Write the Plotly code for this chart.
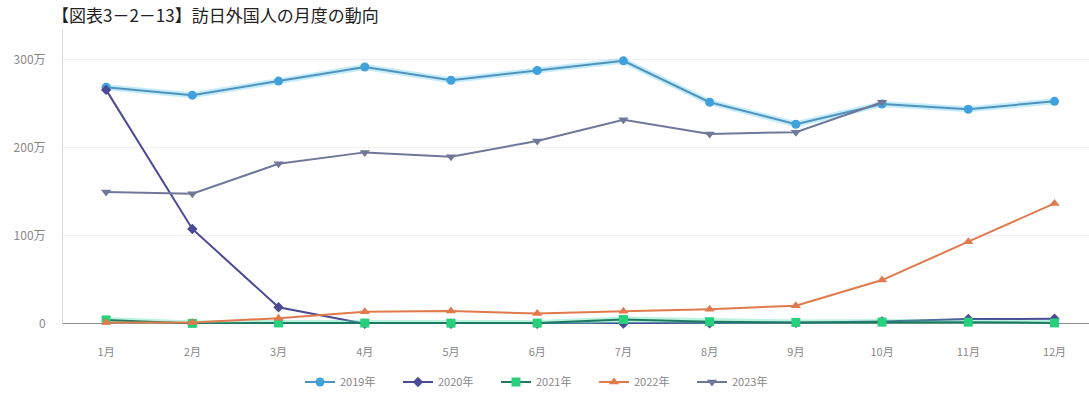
import plotly.graph_objects as go

months = ["1月", "2月", "3月", "4月", "5月", "6月", "7月", "8月", "9月", "10月", "11月", "12月"]
y2019 = [269, 260, 276, 292, 277, 288, 299, 252, 227, 250, 244, 253]
y2020 = [266, 108, 19, 0.3, 0.2, 0.3, 0.4, 0.9, 1.4, 2.8, 5.6, 5.9]
y2021 = [4.6, 0.7, 1.2, 1.1, 1.0, 1.0, 5.1, 2.6, 1.8, 2.2, 2.1, 1.2]
y2022 = [1.7, 1.7, 6.6, 13.9, 14.7, 12.0, 14.5, 16.9, 20.7, 49.9, 93.5, 137.0]
y2023 = [150, 148, 182, 195, 190, 208, 232, 216, 218, 252]
yticks = [0, 100, 200, 300]
ytick_text = ["0", "100万", "200万", "300万"]
title_text = "【図表3－2－13】訪日外国人の月度の動向"

series = [
    ("2019年", y2019, "#3fa2dc", "#4f93bd", "circle", 9, "rgba(90,200,240,0.35)"),
    ("2020年", y2020, "#4a4a95", "#4a4a95", "diamond", 8, None),
    ("2021年", y2021, "#27d07a", "#1e7a63", "square", 9, "rgba(60,220,160,0.35)"),
    ("2022年", y2022, "#e07a4c", "#e07a4c", "triangle-up", 9, None),
    ("2023年", y2023, "#6f7898", "#6f7898", "triangle-down", 9, None),
]

fig = go.Figure()
for name, vals, mcol, lcol, sym, size, glow in series:
    xs = months[:len(vals)]
    ys = [v * 10000 for v in vals]
    if glow:
        fig.add_trace(go.Scatter(
            x=xs, y=ys, mode="lines", showlegend=False, hoverinfo="skip",
            line=dict(color=glow, width=6), cliponaxis=False,
        ))
    fig.add_trace(go.Scatter(
        x=xs, y=ys, name=name,
        mode="lines+markers",
        line=dict(color=lcol, width=2),
        marker=dict(color=mcol, symbol=sym, size=size),
        cliponaxis=False,
    ))

W, H = 1089, 403
ml, mr, mt, mb = 63, 0, 12, 79
ph = H - mt - mb
pw = W - ml - mr

fig.update_layout(
    width=W, height=H,
    margin=dict(l=ml, r=mr, t=mt, b=mb),
    paper_bgcolor="white", plot_bgcolor="white",
    font=dict(family="Noto Sans CJK JP", size=10, color="#888888"),
    showlegend=True,
    legend=dict(orientation="h", x=(300 - ml) / pw, xanchor="left",
                y=-(382 - 324) / ph, yanchor="middle",
                font=dict(size=11, color="#888888"),
                entrywidth=53, entrywidthmode="pixels",
                itemwidth=30, tracegroupgap=0),
    xaxis=dict(
        type="category", categoryorder="array", categoryarray=months,
        range=[-0.5, 11.4],
        showgrid=False, showline=False, zeroline=False,
        ticks="", ticklabelstandoff=20,
        tickfont=dict(size=11, color="#888888"),
    ),
    yaxis=dict(
        range=[0, 3.545e6],
        tickvals=[v * 10000 for v in yticks], ticktext=ytick_text,
        showgrid=True, gridcolor="#efefef", gridwidth=1,
        zeroline=False,
        showline=True, linecolor="#d9d9d9", linewidth=1,
        ticks="", ticklabelstandoff=14,
        tickfont=dict(size=12, color="#888888"),
    ),
    shapes=[dict(type="line", xref="paper", yref="y", x0=0, x1=1, y0=0, y1=0,
                 line=dict(color="#666666", width=1.5), layer="below")],
    annotations=[dict(
        text=title_text, xref="paper", yref="paper",
        x=(50 - ml) / pw, xanchor="left",
        y=1 + (mt - 0) / ph, yanchor="top",
        showarrow=False, font=dict(size=17, color="#222222", family="Noto Sans CJK JP"),
        bgcolor="white",
    )],
)

fig.write_html("out.html")
